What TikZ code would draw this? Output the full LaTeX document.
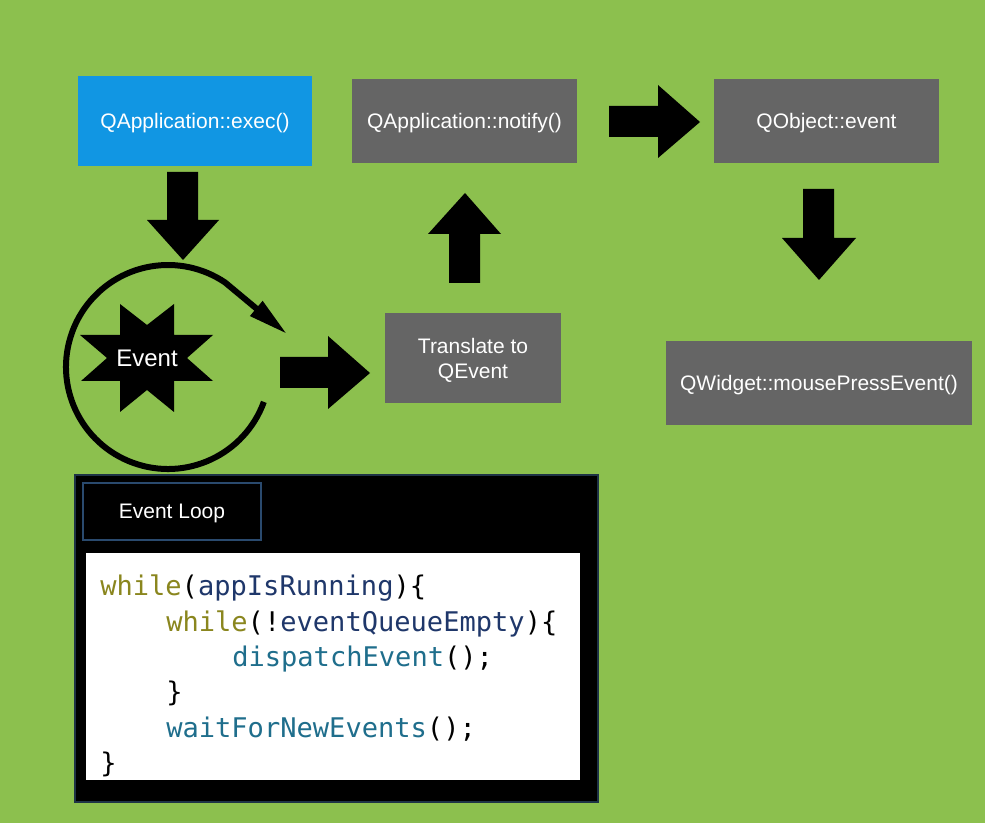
\documentclass[tikz,border=0pt]{standalone}
\usepackage{fontspec}
\setmainfont{Liberation Sans}
\newfontfamily\codefont{DejaVu Sans Mono}
\usetikzlibrary{arrows.meta}
\definecolor{bg}{HTML}{8CC04E}
\definecolor{qblue}{HTML}{1196E3}
\definecolor{qgray}{HTML}{656565}
\definecolor{codeframe}{HTML}{1E3346}
\definecolor{tabframe}{HTML}{2A4A6E}
\definecolor{kw}{HTML}{8A861E}
\definecolor{var}{HTML}{1F376A}
\definecolor{fn}{HTML}{1F6E8C}
\tikzset{
  lbl/.style={text=white, font=\fontsize{15.75}{18.75}\selectfont, align=center, inner sep=0pt, text depth=0pt},
  qbox/.style={lbl, fill=qgray},
  blockarrow/.style={fill=black},
  codeline/.style={anchor=base west, inner sep=0pt, font=\codefont\fontsize{20.3}{24}\selectfont}
}
\begin{document}
\begin{tikzpicture}[x=0.75pt,y=-0.75pt]
\fill[bg] (0,0) rectangle (985,823);
\useasboundingbox (0,0) rectangle (985,823);

% boxes
\node[lbl, fill=qblue, minimum width=234*0.75pt, minimum height=90*0.75pt] (exec) at (195,121) {QApplication::exec()};
\node[qbox, minimum width=225*0.75pt, minimum height=84*0.75pt] (notify) at (464.5,121) {QApplication::notify()};
\node[qbox, minimum width=225*0.75pt, minimum height=84*0.75pt] (qobj) at (826.5,121) {QObject::event};
\node[qbox, minimum width=306*0.75pt, minimum height=84*0.75pt] (widget) at (819,383) {QWidget::mousePressEvent()};
\node[qbox, minimum width=176*0.75pt, minimum height=90*0.75pt] (trans) at (473,358) {Translate to\\QEvent};

% block arrows
\fill[blockarrow] (167,172) -- (198,172) -- (198,220) -- (219,220) -- (183,260) -- (147,220) -- (167,220) -- cycle;
\fill[blockarrow] (609,106) -- (658,106) -- (658,85) -- (700,122) -- (658,158) -- (658,137) -- (609,137) -- cycle;
\fill[blockarrow] (803,189) -- (834,189) -- (834,238) -- (856,238) -- (819,280) -- (782,238) -- (803,238) -- cycle;
\fill[blockarrow] (449,283) -- (480,283) -- (480,234) -- (501,234) -- (465,193) -- (428,234) -- (449,234) -- cycle;
\fill[blockarrow] (280,357) -- (328,357) -- (328,336) -- (370,373) -- (328,409) -- (328,388) -- (280,388) -- cycle;

% event loop circle
\coordinate (loopc) at (168,367);
\coordinate (looptip) at (287,334);
\draw[line width=4.5pt, -{Triangle[length=30pt, width=13.5pt]}]
  ([shift={(20:102)}]loopc) arc[start angle=20, end angle=304, radius=102] -- (looptip);

% star ({8/3} star polygon)
\fill[black, shift={(147,358)}]
  (40,0) -- (66,23) -- (27,23) -- (27,54) -- (0,32) -- (-27,54) -- (-27,23) -- (-66,23) --
  (-40,0) -- (-67,-23) -- (-27,-23) -- (-27,-54) -- (0,-33) -- (27,-54) -- (27,-23) -- (66,-23) -- cycle;
\node[lbl, font=\fontsize{18}{21}\selectfont] (ev) at (147,358) {Event};

% code panel
\node[fill=black, draw=codeframe, line width=1.5pt, minimum width=523*0.75pt, minimum height=327*0.75pt, inner sep=0pt] (panel) at (336.5,638.5) {};
\node[lbl, fill=black, draw=tabframe, line width=0.8pt, minimum width=178*0.75pt, minimum height=57*0.75pt] (tab) at (172,511.5) {Event Loop};
\node[fill=white, minimum width=494*0.75pt, minimum height=227*0.75pt, inner sep=0pt] (code) at (333,666.5) {};

\node[codeline] (l1) at (100,595) {\textcolor{kw}{while}(\textcolor{var}{appIsRunning})\{};
\node[codeline] (l2) at (166,631) {\textcolor{kw}{while}(!\textcolor{var}{eventQueueEmpty})\{};
\node[codeline] (l3) at (232,666) {\textcolor{fn}{dispatchEvent}();};
\node[codeline] (l4) at (166,701) {\}};
\node[codeline] (l5) at (166,737) {\textcolor{fn}{waitForNewEvents}();};
\node[codeline] (l6) at (100,772) {\}};
\end{tikzpicture}
\end{document}
